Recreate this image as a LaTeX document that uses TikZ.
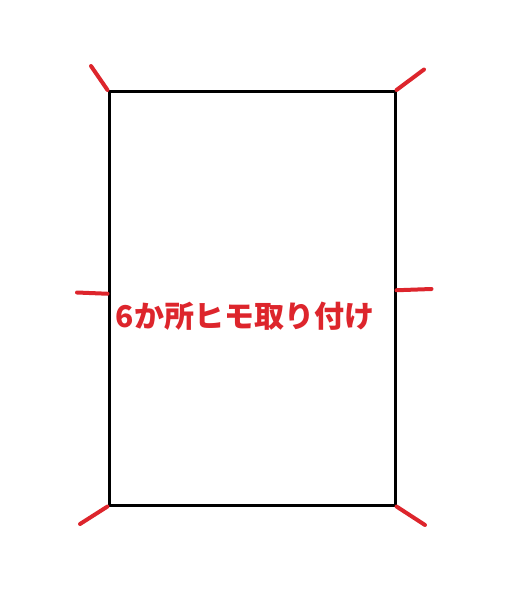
\documentclass[tikz,border=0pt]{standalone}
\usepackage{fontspec}
\newfontfamily\jpfont{Noto Sans CJK JP Black}
\usepackage{xcolor}
\usepackage{tikz}
\usetikzlibrary{calc}
\usetikzlibrary{positioning}
\definecolor{himo}{RGB}{221,37,44}
\begin{document}
\begin{tikzpicture}[x=1pt,y=-1pt,-,semithick]
 				 \tikzstyle{sheet}=[draw, rectangle, line width=3pt, minimum width=286pt, minimum height=413.5pt, inner sep=0pt]
 				 \tikzstyle{cord}=[draw=himo, line width=4pt, line cap=round]
 				 \tikzstyle{label}=[text=himo, font=\jpfont\fontsize{30}{30}\selectfont, inner sep=0pt]
 				 \useasboundingbox (0,0) rectangle (525,602);
 					 \node[sheet] 		(S) at (252,298.25) {};
 					 \node[label] 		(T) at (245,316) {6か所ヒモ取り付け};
 					 \coordinate (tl) at (91,66);
 					 \coordinate (tr) at (424,69.5);
 					 \coordinate (ml) at (77,292.5);
 					 \coordinate (mr) at (431.5,289);
 					 \coordinate (bl) at (80,524);
 					 \coordinate (br) at (425,525);
 					
 					  \path
 					  			(S.north west) edge[cord] (tl)
 					  			(S.north east) edge[cord] (tr)
 					  			($(S.west)+(0,-4.5)$) edge[cord] (ml)
 					  			($(S.east)+(0,-8)$) edge[cord] (mr)
 					  			(S.south west) edge[cord] (bl)
 					  			(S.south east) edge[cord] (br);
				\end{tikzpicture}
\end{document}
